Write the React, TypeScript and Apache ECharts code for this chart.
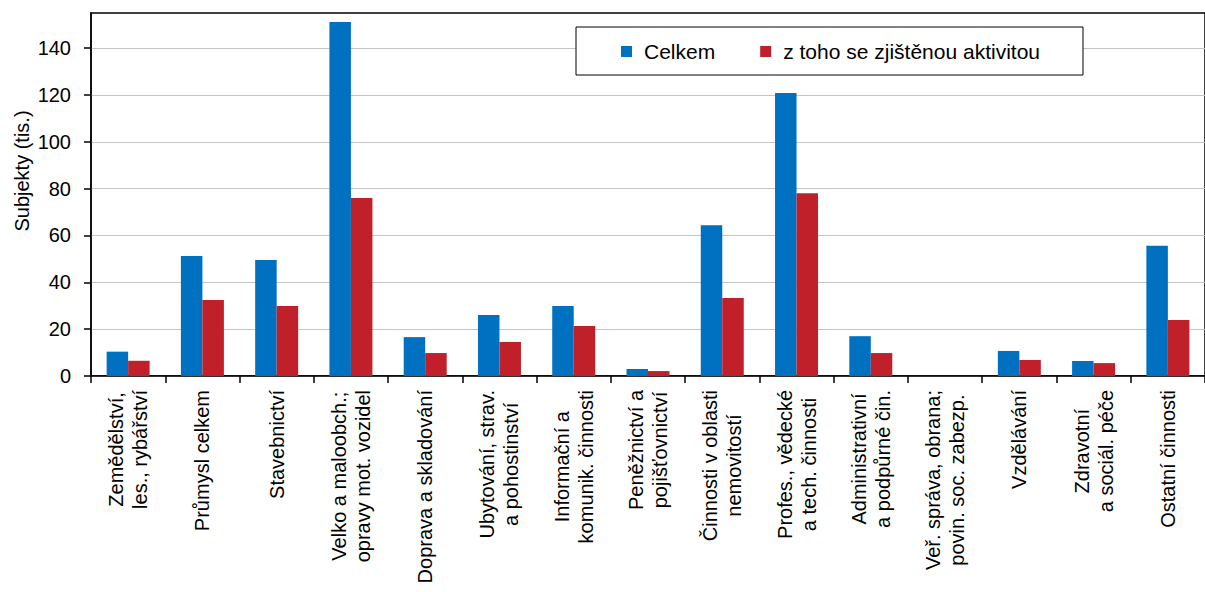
import React, { useEffect, useRef } from "react";
import * as echarts from "echarts";

const categories: string[] = [
  "Zemědělství,\nles., rybářství",
  "Průmysl celkem",
  "Stavebnictví",
  "Velko a maloobch.;\nopravy mot. vozidel",
  "Doprava a skladování",
  "Ubytování, strav.\na pohostinství",
  "Informační a\nkomunik. činnosti",
  "Peněžnictví a\npojišťovnictví",
  "Činnosti v oblasti\nnemovitostí",
  "Profes., vědecké\na tech. činnosti",
  "Administrativní\na podpůrné čin.",
  "Veř. správa, obrana;\npovin. soc. zabezp.",
  "Vzdělávání",
  "Zdravotní\na sociál. péče",
  "Ostatní činnosti",
];

const celkem: number[] = [10.4, 51.2, 49.5, 151.2, 16.6, 26.0, 29.9, 3.0, 64.4, 120.8, 17.0, 0, 10.7, 6.4, 55.6];
const aktivita: number[] = [6.5, 32.4, 29.9, 76.0, 9.8, 14.5, 21.3, 2.1, 33.3, 78.0, 9.8, 0, 6.8, 5.5, 23.9];

const seriesNames: string[] = ["Celkem", "z toho se zjištěnou aktivitou"];
const yTicks: number[] = [0, 20, 40, 60, 80, 100, 120, 140];
const yTitle = "Subjekty (tis.)";

const FONT = '"Liberation Sans", Arial, sans-serif';

export default function App() {
  const ref = useRef<HTMLDivElement>(null);

  useEffect(() => {
    if (!ref.current) return;
    const chart = echarts.init(ref.current, undefined, { renderer: "svg" });
    chart.setOption({
      animation: false,
      textStyle: { fontFamily: FONT, color: "#000" },
      grid: {
        left: 91,
        top: 13,
        right: -11,
        bottom: 216,
        show: true,
        borderColor: "#000",
        borderWidth: 1.5,
        backgroundColor: "transparent",
      },
      legend: {
        left: 576,
        top: 27,
        padding: [14, 43, 13, 45],
        borderColor: "#000",
        borderWidth: 1,
        backgroundColor: "#fff",
        itemWidth: 11,
        itemHeight: 11,
        itemGap: 45,
        icon: "rect",
        selectedMode: false,
        textStyle: { fontSize: 21, fontFamily: FONT, color: "#000", padding: [0, 0, 0, 7] },
        data: seriesNames,
      },
      graphic: [
        {
          type: "text",
          x: 22,
          y: 171,
          rotation: Math.PI / 2,
          style: {
            text: yTitle,
            fontSize: 20,
            fontFamily: FONT,
            fill: "#000",
            textAlign: "center",
            textVerticalAlign: "middle",
          },
        },
      ],
      xAxis: {
        type: "category",
        data: categories,
        axisLine: { lineStyle: { color: "#000", width: 1.5 } },
        axisTick: { show: true, length: 7, alignWithLabel: false, lineStyle: { color: "#000", width: 1.5 } },
        axisLabel: {
          interval: 0,
          rotate: 90,
          margin: 14,
          fontSize: 20,
          fontFamily: FONT,
          color: "#000",
          lineHeight: 24,
          formatter: (v: string) => v.split("\n").map((s) => `{c|${s}}`).join("\n"),
          rich: {
            c: { align: "center", fontSize: 20, lineHeight: 24, fontFamily: FONT, color: "#000" },
          },
        },
      },
      yAxis: {
        type: "value",
        min: 0,
        max: 155,
        interval: 20,
        axisLine: { show: true, lineStyle: { color: "#000", width: 1.5 } },
        axisTick: { show: true, length: 7, customValues: yTicks, lineStyle: { color: "#000", width: 1.5 } },
        axisLabel: {
          margin: 20,
          fontSize: 20,
          fontFamily: FONT,
          color: "#000",
          customValues: yTicks,
        },
        splitLine: { show: true, lineStyle: { color: "#C4C4C4", width: 1 } },
      },
      series: [
        {
          name: seriesNames[0],
          type: "bar",
          data: celkem,
          barWidth: 21.5,
          barGap: "0%",
          itemStyle: { color: "#0070C0" },
        },
        {
          name: seriesNames[1],
          type: "bar",
          data: aktivita,
          barWidth: 21.5,
          barGap: "0%",
          itemStyle: { color: "#C0202A" },
        },
      ],
    });
    return () => chart.dispose();
  }, []);

  return (
    <div
      ref={ref}
      style={{ position: "absolute", left: 0, top: 0, width: 1205, height: 592, background: "#fff" }}
    />
  );
}
